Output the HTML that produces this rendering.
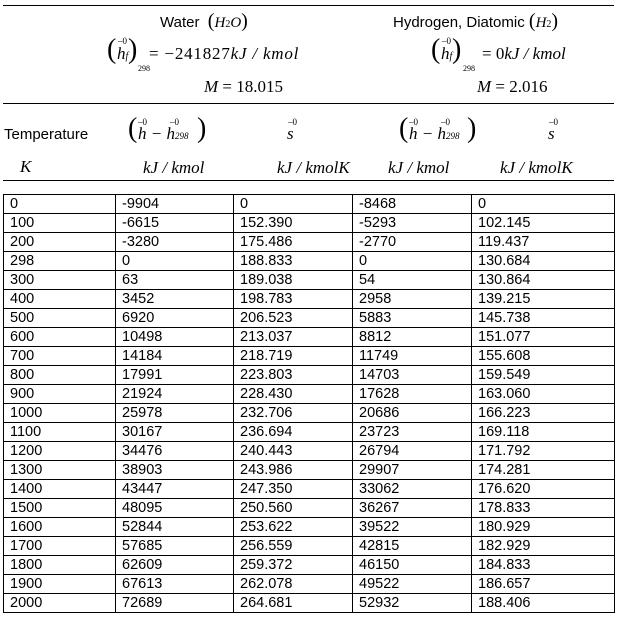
<!DOCTYPE html>
<html><head><style>
body{margin:0;width:621px;height:620px;background:#fff;position:relative;font-family:"Liberation Sans",sans-serif;color:#000;overflow:hidden}
.a{position:absolute;white-space:nowrap}
.s{font-family:"Liberation Serif",serif;font-style:italic}
.r{font-family:"Liberation Serif",serif}
.hl{position:absolute;left:3px;width:611px;height:1px;background:#000}
table{position:absolute;left:3px;top:194px;border-collapse:collapse;font-size:14.5px}
td{border:1px solid #000;height:18px;padding:0 0 0 6px;line-height:18px;vertical-align:middle}
</style></head><body>
<div class="hl" style="top:5px"></div>
<div class="hl" style="top:103px"></div>
<div class="hl" style="top:180px"></div>

<div class="a" style="left:160px;top:10px;font-size:15px">Water &nbsp;<span class="r" style="font-size:20px">(</span><span class="s">H</span><span class="r" style="font-size:10px">2</span><span class="s">O</span><span class="r" style="font-size:20px">)</span></div>
<div class="a" style="left:393px;top:10px;font-size:15px">Hydrogen, Diatomic <span class="r" style="font-size:20px">(</span><span class="s">H</span><span class="r" style="font-size:10px">2</span><span class="r" style="font-size:20px">)</span></div>

<div class="a r" style="left:107px;top:34px;font-size:28px">(</div>
<div class="a s" style="left:117px;top:44px;font-size:17px">h<span style="font-size:10px">f</span></div>
<div class="a r" style="left:118px;top:36px;font-size:9px">&#8211;0</div>
<div class="a r" style="left:128px;top:34px;font-size:28px">)</div>
<div class="a r" style="left:138px;top:64px;font-size:8px">298</div>
<div class="a" style="left:149px;top:44px;font-size:17px;letter-spacing:0.8px"><span class="r">= &#8722;241827</span><span class="s">kJ / kmol</span></div>
<div class="a" style="left:204px;top:77px;font-size:17px"><span class="s">M</span><span class="r"> = 18.015</span></div>

<div class="a r" style="left:431px;top:34px;font-size:28px">(</div>
<div class="a s" style="left:441px;top:44px;font-size:17px">h<span style="font-size:10px">f</span></div>
<div class="a r" style="left:442px;top:36px;font-size:9px">&#8211;0</div>
<div class="a r" style="left:452px;top:34px;font-size:28px">)</div>
<div class="a r" style="left:463px;top:64px;font-size:8px">298</div>
<div class="a" style="left:482px;top:44px;font-size:17px"><span class="r">= 0</span><span class="s">kJ / kmol</span></div>
<div class="a" style="left:477px;top:77px;font-size:17px"><span class="s">M</span><span class="r"> = 2.016</span></div>

<div class="a" style="left:4px;top:126px;font-size:15px">Temperature</div>
<div class="a s" style="left:20px;top:157px;font-size:17px">K</div>

<div class="a r" style="left:128px;top:113px;font-size:28px">(</div>
<div class="a s" style="left:138px;top:124px;font-size:17px">h &#8722; h<span class="r" style="font-size:9px">298</span></div>
<div class="a r" style="left:138px;top:117px;font-size:9px">&#8211;0</div>
<div class="a r" style="left:170px;top:117px;font-size:9px">&#8211;0</div>
<div class="a r" style="left:197px;top:113px;font-size:28px">)</div>
<div class="a s" style="left:143px;top:158px;font-size:17px">kJ / kmol</div>
<div class="a s" style="left:287px;top:124px;font-size:17px">s</div>
<div class="a r" style="left:288px;top:117px;font-size:9px">&#8211;0</div>
<div class="a s" style="left:277px;top:158px;font-size:17px">kJ / kmolK</div>

<div class="a r" style="left:399px;top:113px;font-size:28px">(</div>
<div class="a s" style="left:409px;top:124px;font-size:17px">h &#8722; h<span class="r" style="font-size:9px">298</span></div>
<div class="a r" style="left:409px;top:117px;font-size:9px">&#8211;0</div>
<div class="a r" style="left:441px;top:117px;font-size:9px">&#8211;0</div>
<div class="a r" style="left:467px;top:113px;font-size:28px">)</div>
<div class="a s" style="left:388px;top:158px;font-size:17px">kJ / kmol</div>
<div class="a s" style="left:548px;top:124px;font-size:17px">s</div>
<div class="a r" style="left:549px;top:117px;font-size:9px">&#8211;0</div>
<div class="a s" style="left:500px;top:158px;font-size:17px">kJ / kmolK</div>

<table>
<colgroup><col style="width:112px"><col style="width:118px"><col style="width:119px"><col style="width:119px"><col style="width:143px"></colgroup>
<tr><td>0</td><td>-9904</td><td>0</td><td>-8468</td><td>0</td></tr>
<tr><td>100</td><td>-6615</td><td>152.390</td><td>-5293</td><td>102.145</td></tr>
<tr><td>200</td><td>-3280</td><td>175.486</td><td>-2770</td><td>119.437</td></tr>
<tr><td>298</td><td>0</td><td>188.833</td><td>0</td><td>130.684</td></tr>
<tr><td>300</td><td>63</td><td>189.038</td><td>54</td><td>130.864</td></tr>
<tr><td>400</td><td>3452</td><td>198.783</td><td>2958</td><td>139.215</td></tr>
<tr><td>500</td><td>6920</td><td>206.523</td><td>5883</td><td>145.738</td></tr>
<tr><td>600</td><td>10498</td><td>213.037</td><td>8812</td><td>151.077</td></tr>
<tr><td>700</td><td>14184</td><td>218.719</td><td>11749</td><td>155.608</td></tr>
<tr><td>800</td><td>17991</td><td>223.803</td><td>14703</td><td>159.549</td></tr>
<tr><td>900</td><td>21924</td><td>228.430</td><td>17628</td><td>163.060</td></tr>
<tr><td>1000</td><td>25978</td><td>232.706</td><td>20686</td><td>166.223</td></tr>
<tr><td>1100</td><td>30167</td><td>236.694</td><td>23723</td><td>169.118</td></tr>
<tr><td>1200</td><td>34476</td><td>240.443</td><td>26794</td><td>171.792</td></tr>
<tr><td>1300</td><td>38903</td><td>243.986</td><td>29907</td><td>174.281</td></tr>
<tr><td>1400</td><td>43447</td><td>247.350</td><td>33062</td><td>176.620</td></tr>
<tr><td>1500</td><td>48095</td><td>250.560</td><td>36267</td><td>178.833</td></tr>
<tr><td>1600</td><td>52844</td><td>253.622</td><td>39522</td><td>180.929</td></tr>
<tr><td>1700</td><td>57685</td><td>256.559</td><td>42815</td><td>182.929</td></tr>
<tr><td>1800</td><td>62609</td><td>259.372</td><td>46150</td><td>184.833</td></tr>
<tr><td>1900</td><td>67613</td><td>262.078</td><td>49522</td><td>186.657</td></tr>
<tr><td>2000</td><td>72689</td><td>264.681</td><td>52932</td><td>188.406</td></tr>
</table>
</body></html>
